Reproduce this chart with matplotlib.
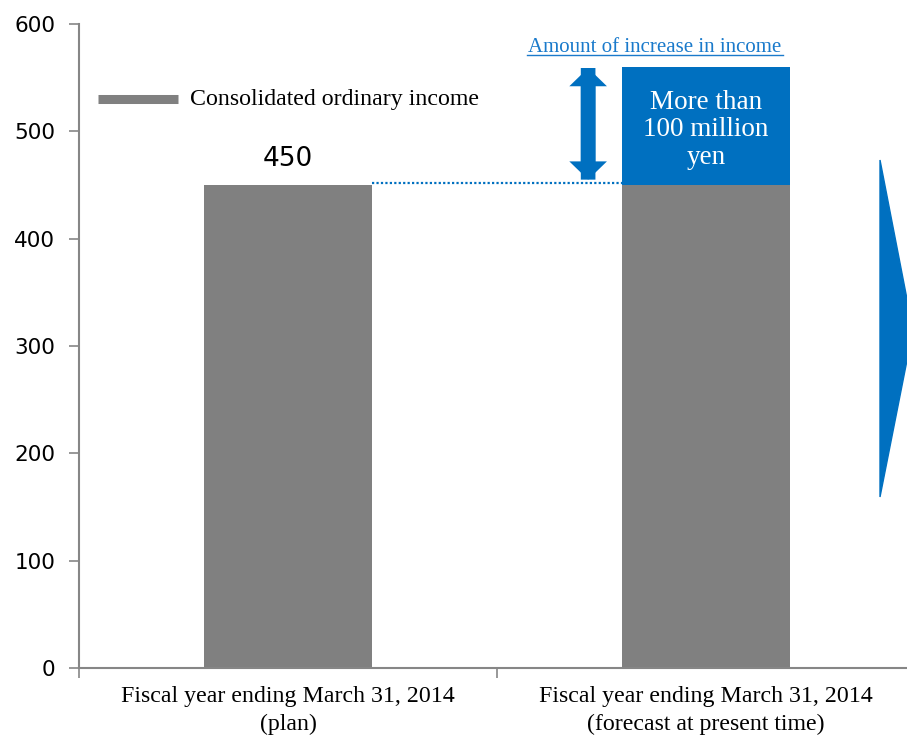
import matplotlib
matplotlib.use("Agg")
import matplotlib.pyplot as plt
from matplotlib.patches import FancyArrow, Polygon
from matplotlib.lines import Line2D

# Data
categories = ["Fiscal year ending March 31, 2014\n(plan)",
              "Fiscal year ending March 31, 2014\n(forecast at present time)"]
ordinary_income = [450, 450]
income_increase = [0, 110]
plan_label = "450"
increase_label = "More than\n100 million\nyen"
series_name = "Consolidated ordinary income"
yticks = [0, 100, 200, 300, 400, 500, 600]

GRAY = "#808080"
BLUE = "#0070C0"
AXIS = "#868686"
SERIF = ["Liberation Serif", "DejaVu Serif"]

fig = plt.figure(figsize=(9.07, 7.35), dpi=100)
W, H = 907, 735
ax = fig.add_axes([79 / W, 67 / H, 836 / W, 644 / H])

x = list(range(len(categories)))
bw = 0.40
ax.bar(x, ordinary_income, width=bw, color=GRAY, zorder=2)
ax.bar(x, income_increase, width=bw, bottom=ordinary_income, color=BLUE, zorder=2)

ax.set_xlim(-0.5, 1.5)
ax.set_ylim(0, 600)
ax.set_yticks(yticks)
ax.tick_params(axis="y", direction="out", length=7, width=1.2, color=AXIS,
               labelsize=15.5, pad=10)
ax.set_xticks(x)
ax.set_xticklabels(categories, fontfamily=SERIF, fontsize=17.2, linespacing=1.4)
ax.tick_params(axis="x", length=0, pad=13)
ax.set_xticks([-0.5, 0.5, 1.5], minor=True)
ax.tick_params(axis="x", which="minor", direction="out", length=7, width=1.2, color=AXIS)

for s in ["top", "right"]:
    ax.spines[s].set_visible(False)
for s in ["left", "bottom"]:
    ax.spines[s].set_color(AXIS)
    ax.spines[s].set_linewidth(1.5)

# Value label over the plan bar
ax.text(x[0], ordinary_income[0] + 12, plan_label, ha="center", va="bottom",
        fontsize=19, color="black")

# Dotted guide from plan level to forecast bar
ax.plot([x[0] + bw / 2, x[1] - bw / 2], [ordinary_income[0] + 2] * 2,
        color=BLUE, linestyle=(0, (1, 1)), linewidth=1.6, zorder=3)

# Increase label inside the blue segment
ax.text(x[1], ordinary_income[1] + income_increase[1] / 2 - 3.5, increase_label,
        ha="center", va="center", color="white", fontfamily=SERIF,
        fontsize=19.5, linespacing=1.14, zorder=4)

# Double-headed arrow showing the increase
arrow_x = 0.718
lo, hi = 455, 559
for start, dy in [(lo, hi - lo), (hi, lo - hi)]:
    ax.add_patch(FancyArrow(arrow_x, start, 0, dy, width=0.035, head_width=0.09,
                            head_length=17, length_includes_head=True,
                            shape="full", color=BLUE, zorder=3, linewidth=0))

# Header above the arrow
fig.text(655 / W, 1 - 47 / H, "Amount of increase in income", ha="center",
         va="center", color="#1A7ACB", fontfamily=SERIF, fontsize=15)
fig.add_artist(Line2D([527 / W, 783 / W], [1 - 55 / H] * 2, color="#1A7ACB",
                      linewidth=1.0, transform=fig.transFigure))

# Legend
fig.add_artist(Line2D([98 / W, 178 / W], [1 - 99 / H] * 2, color=GRAY,
                      linewidth=6.5, solid_capstyle="butt",
                      transform=fig.transFigure))
fig.text(190 / W, 1 - 100 / H, series_name, ha="left", va="center",
         fontfamily=SERIF, fontsize=17.2)

# Chevron pointing right at the edge
fig.add_artist(Polygon([(880 / W, 1 - 160 / H), (913 / W, 1 - 330 / H),
                        (880 / W, 1 - 497 / H)], closed=True,
                       transform=fig.transFigure, color=BLUE))

fig.savefig("out.png", dpi=100)
